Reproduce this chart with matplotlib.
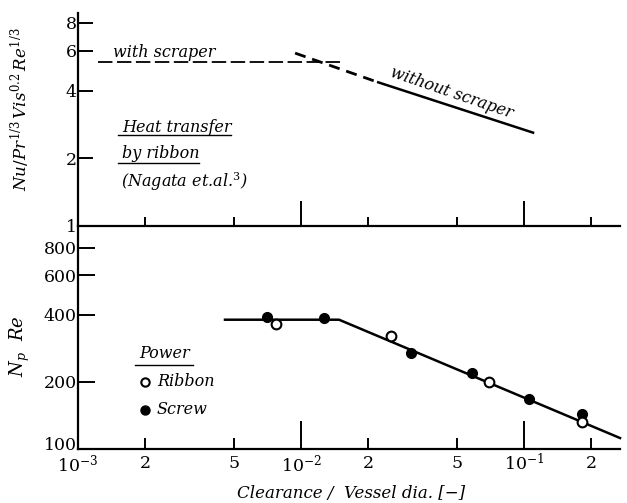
import numpy as np
import matplotlib
matplotlib.use('Agg')
import matplotlib.pyplot as plt
import matplotlib.transforms as mtransforms
from matplotlib.ticker import NullLocator

plt.rcParams['font.family'] = 'DejaVu Serif'
plt.rcParams['mathtext.fontset'] = 'dejavuserif'

# heat transfer (Nagata et al.)
with_scraper_x = [0.00123, 0.0153]
with_scraper_y = [5.36, 5.36]
without_dash_x = [0.0094, 0.0219]
without_dash_y = [5.87, 4.37]
without_x = [0.0219, 0.111]
without_y = [4.37, 2.59]

# power
power_x = [0.00456, 0.0148, 0.269]
power_y = [380, 380, 112]
screw_x = [0.00704, 0.01268, 0.0311, 0.0585, 0.105, 0.182]
screw_y = [392, 388, 270, 219, 168, 144]
ribbon_x = [0.00773, 0.0254, 0.0697, 0.182]
ribbon_y = [364, 322, 200, 132]

x_major = [1e-3, 1e-2, 1e-1]
x_major_labels = ['$10^{-3}$', '$10^{-2}$', '$10^{-1}$']
x_minor = [2e-3, 5e-3, 2e-2, 5e-2, 2e-1]
x_minor_labels = ['2', '5', '2', '5', '2']
top_yticks = [1, 2, 4, 6, 8]
bot_yticks = [100, 200, 400, 600, 800]

W, H = 627, 503
fig = plt.figure(figsize=(W / 100, H / 100), dpi=100)


def fx(px):
    return px / W


def fy(py):
    return 1 - py / H


xmin, xmax = 1e-3, 0.269
ax_top = fig.add_axes([fx(78), fy(226), (620 - 78) / W, (226 - 13) / H])
ax_bot = fig.add_axes([fx(78), fy(449), (620 - 78) / W, (449 - 226) / H])

for ax in (ax_top, ax_bot):
    ax.set_xscale('log')
    ax.set_yscale('log')
    ax.set_xlim(xmin, xmax)
    ax.spines['top'].set_visible(False)
    ax.spines['right'].set_visible(False)
    ax.spines['left'].set_linewidth(1.6)
    ax.spines['bottom'].set_linewidth(1.6)
    ax.patch.set_visible(False)
    ax.yaxis.set_minor_locator(NullLocator())
    ax.tick_params(which='both', direction='in', width=1.4, labelsize=12.5)

ax_top.set_ylim(1, 8.85)
ax_bot.set_ylim(100, 1000)

# top panel ticks (no labels)
ax_top.set_xticks(x_major, labels=['', '', ''])
ax_top.set_xticks(x_minor, labels=[''] * 5, minor=True)
ax_top.tick_params(axis='x', which='major', length=18)
ax_top.tick_params(axis='x', which='minor', length=6.5)
ax_top.set_yticks(top_yticks, labels=[str(v) for v in top_yticks])
ax_top.tick_params(axis='y', length=11, pad=1)

# bottom panel ticks
ax_bot.set_xticks(x_major, labels=x_major_labels)
ax_bot.set_xticks(x_minor, labels=x_minor_labels, minor=True)
ax_bot.tick_params(axis='x', which='major', length=20, pad=3)
ax_bot.tick_params(axis='x', which='minor', length=8, pad=4)
ax_bot.set_yticks(bot_yticks, labels=[str(v) for v in bot_yticks])
ax_bot.tick_params(axis='y', length=12, pad=1)

# lift the "100" label a little so it sits above the 10^-3 label
lab100 = ax_bot.get_yticklabels()[0]
lab100.set_transform(lab100.get_transform() +
                     mtransforms.ScaledTranslation(0, 4 / 72, fig.dpi_scale_trans))

# top panel data
ax_top.plot(with_scraper_x, with_scraper_y, color='black', lw=1.3, dashes=(8, 2.5))
ax_top.plot(without_dash_x, without_dash_y, color='black', lw=2.0, dashes=(4, 2.5))
ax_top.plot(without_x, without_y, color='black', lw=1.8, solid_capstyle='butt')

ax_top.text(0.00144, 5.93, 'with scraper', style='italic', fontsize=11.5,
            ha='left', va='center')
ax_top.text(0.0475, 3.90, 'without scraper', style='italic', fontsize=11.5,
            ha='center', va='center', rotation=-19, rotation_mode='anchor')

fig.text(fx(122), fy(127), 'Heat transfer', style='italic', fontsize=11.5,
         ha='left', va='center')
fig.text(fx(122), fy(153), 'by ribbon', style='italic', fontsize=11.5,
         ha='left', va='center')
fig.text(fx(121), fy(182), '(Nagata et.al.$^3$)', style='italic', fontsize=11.5,
         ha='left', va='center')
fig.add_artist(plt.Line2D([fx(118), fx(231)], [fy(135), fy(135)], color='black', lw=1.0))
fig.add_artist(plt.Line2D([fx(118), fx(199)], [fy(163), fy(163)], color='black', lw=1.0))

# bottom panel data
ax_bot.plot(power_x, power_y, color='black', lw=1.8, clip_on=False)
ax_bot.plot(screw_x, screw_y, 'o', color='black', ms=7, zorder=3)
ax_bot.plot(ribbon_x, ribbon_y, 'o', mfc='white', mec='black', mew=1.5, ms=7, zorder=3)

# legend
fig.text(fx(139), fy(353), 'Power', style='italic', fontsize=11.5, ha='left', va='center')
fig.add_artist(plt.Line2D([fx(135), fx(193)], [fy(365), fy(365)], color='black', lw=1.0))
fig.add_artist(plt.Line2D([fx(145)], [fy(382)], marker='o', ms=6, mfc='white',
                          mec='black', mew=1.5, linestyle='none'))
fig.add_artist(plt.Line2D([fx(145)], [fy(410)], marker='o', ms=6.5, color='black',
                          linestyle='none'))
fig.text(fx(157), fy(382), 'Ribbon', style='italic', fontsize=11.5, ha='left', va='center')
fig.text(fx(157), fy(410), 'Screw', style='italic', fontsize=11.5, ha='left', va='center')

# axis labels
fig.text(fx(20), fy(109), r'$Nu/Pr^{1/3}\,Vis^{0.2}\,Re^{1/3}$', fontsize=12,
         rotation=90, ha='center', va='center')
fig.text(fx(20), fy(346), r'$N_p\ \ Re$', fontsize=13,
         rotation=90, ha='center', va='center')
fig.text(fx(351), fy(493), 'Clearance /  Vessel dia. [\u2212]', style='italic',
         fontsize=12, ha='center', va='center')

fig.savefig('out.png', dpi=100)
